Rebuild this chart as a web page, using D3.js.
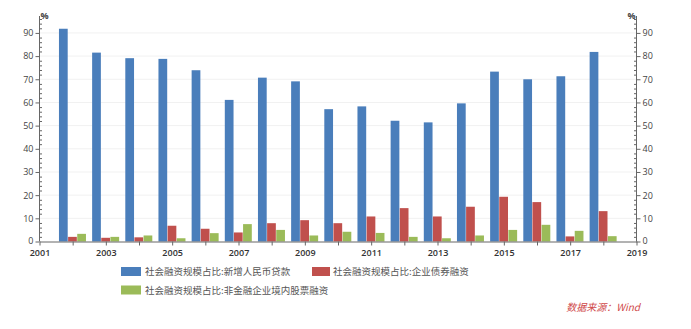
<!DOCTYPE html>
<html>
<head>
<meta charset="utf-8">
<script src="https://cdn.jsdelivr.net/npm/d3@7/dist/d3.min.js"></script>
<style>
  html, body { margin: 0; padding: 0; background: #fff; }
  svg { display: block; font-family: "Open Sans", "DejaVu Sans", sans-serif; }
</style>
</head>
<body>
<svg id="chart" width="691" height="329"></svg>
<script>
// Years and share of total social financing (%)
const years = [2002, 2003, 2004, 2005, 2006, 2007, 2008, 2009, 2010, 2011, 2012, 2013, 2014, 2015, 2016, 2017, 2018];
const loans = [91.8, 81.5, 79.1, 78.8, 73.9, 61.1, 70.7, 69.1, 57.1, 58.3, 52.1, 51.4, 59.6, 73.3, 70.0, 71.3, 81.8];
const bonds = [2.0, 1.6, 1.8, 6.8, 5.5, 3.9, 7.9, 9.2, 7.9, 10.8, 14.4, 10.8, 15.0, 19.3, 17.0, 2.2, 13.1];
const equity = [3.3, 2.0, 2.6, 1.4, 3.6, 7.5, 5.0, 2.6, 4.2, 3.7, 2.0, 1.4, 2.6, 5.0, 7.2, 4.6, 2.3];
const seriesNames = ["社会融资规模占比:新增人民币贷款", "社会融资规模占比:企业债券融资", "社会融资规模占比:非金融企业境内股票融资"];
const yTicks = [0, 10, 20, 30, 40, 50, 60, 70, 80, 90];
const xTickLabels = [2001, 2003, 2005, 2007, 2009, 2011, 2013, 2015, 2017, 2019];

const colors = ["#4a7ebb", "#c0504d", "#9bbb59"];
const series = [loans, bonds, equity];

const svg = d3.select("#chart");
const m = { left: 39.5, right: 636.5, top: 16, bottom: 241.5 };

const x = d3.scaleLinear().domain([2001, 2019]).range([m.left, m.right]);
const y = d3.scaleLinear().domain([0, 97.3]).range([m.bottom, m.top]);
const sub = d3.scaleBand().domain([0, 1, 2]).range([-13.7, 13.7]).padding(0);

// light horizontal gridlines
svg.append("g").selectAll("line").data(yTicks.slice(1)).join("line")
  .attr("x1", m.left).attr("x2", m.right)
  .attr("y1", d => y(d)).attr("y2", d => y(d))
  .attr("stroke", "#f1f1f1").attr("stroke-width", 1);

// bars
series.forEach((vals, si) => {
  svg.append("g").selectAll("rect").data(vals).join("rect")
    .attr("x", (d, i) => x(years[i]) + sub(si))
    .attr("width", sub.bandwidth() - 0.4)
    .attr("y", d => y(d))
    .attr("height", d => m.bottom - y(d))
    .attr("fill", colors[si]);
});

const axisColor = "#666";
const labelColor = "#444";
const minorTicks = d3.range(2, 97, 2).filter(v => v % 10 !== 0);

// left axis
const gl = svg.append("g").attr("transform", `translate(${m.left},0)`);
gl.call(d3.axisLeft(y).tickValues(yTicks).tickSize(4).tickSizeOuter(0).tickPadding(2));
gl.append("g").call(d3.axisRight(y).tickValues(minorTicks).tickSize(2.5).tickSizeOuter(0).tickFormat(""));
// right axis
const gr = svg.append("g").attr("transform", `translate(${m.right},0)`);
gr.call(d3.axisRight(y).tickValues(yTicks).tickSize(4).tickSizeOuter(0).tickPadding(2));
gr.append("g").call(d3.axisLeft(y).tickValues(minorTicks).tickSize(2.5).tickSizeOuter(0).tickFormat(""));
// bottom axis
const gb = svg.append("g").attr("transform", `translate(0,${m.bottom})`);
gb.call(d3.axisBottom(x).tickValues(d3.range(2001, 2020)).tickSize(4).tickSizeOuter(0)
  .tickFormat(d => xTickLabels.includes(d) ? String(d) : "").tickPadding(4.5));

svg.selectAll(".domain").attr("stroke", axisColor);
svg.selectAll(".tick line").attr("stroke", axisColor);
svg.selectAll(".tick text").attr("fill", labelColor).attr("font-size", 9)
  .attr("font-family", "'Open Sans', 'DejaVu Sans', sans-serif");
gb.selectAll(".tick text").attr("fill", "#333").attr("font-weight", 600);
// the "0" labels sit a touch higher so they stay clear of the year labels
gl.selectAll(".tick text").filter(d => d === 0).attr("dy", "0.2em");
gr.selectAll(".tick text").filter(d => d === 0).attr("dy", "0.2em");
// y axis lines run to the top of the plot
gl.selectAll(".domain").remove();
gr.selectAll(".domain").remove();
svg.append("line").attr("x1", m.left).attr("x2", m.left).attr("y1", m.top).attr("y2", m.bottom).attr("stroke", axisColor);
svg.append("line").attr("x1", m.right).attr("x2", m.right).attr("y1", m.top).attr("y2", m.bottom).attr("stroke", axisColor);

// unit labels
svg.append("text").attr("x", m.left + 1).attr("y", m.top + 3).text("%")
  .attr("font-size", 9).attr("font-weight", 700).attr("fill", "#444");
svg.append("text").attr("x", m.right - 1).attr("y", m.top + 3).attr("text-anchor", "end").text("%")
  .attr("font-size", 9).attr("font-weight", 700).attr("fill", "#444");

// legend
const legendPos = [[121, 267], [312, 267], [121, 285.5]];
const lg = svg.append("g");
seriesNames.forEach((name, i) => {
  const [lx, ly] = legendPos[i];
  lg.append("rect").attr("x", lx).attr("y", ly).attr("width", i === 1 ? 18 : 20).attr("height", 9).attr("fill", colors[i]);
  lg.append("text").attr("x", lx + (i === 1 ? 21 : 24)).attr("y", ly + 8)
    .attr("font-size", 9.5).attr("fill", "#555")
    .attr("font-family", "'Noto Sans CJK SC', sans-serif")
    .text(name);
});

// data source
svg.append("text").attr("x", 640).attr("y", 311).attr("text-anchor", "end")
  .attr("font-size", 10).attr("font-style", "italic").attr("fill", "#d04a4a")
  .attr("font-family", "'Noto Sans CJK SC', sans-serif")
  .text("数据来源：Wind");
</script>
</body>
</html>
